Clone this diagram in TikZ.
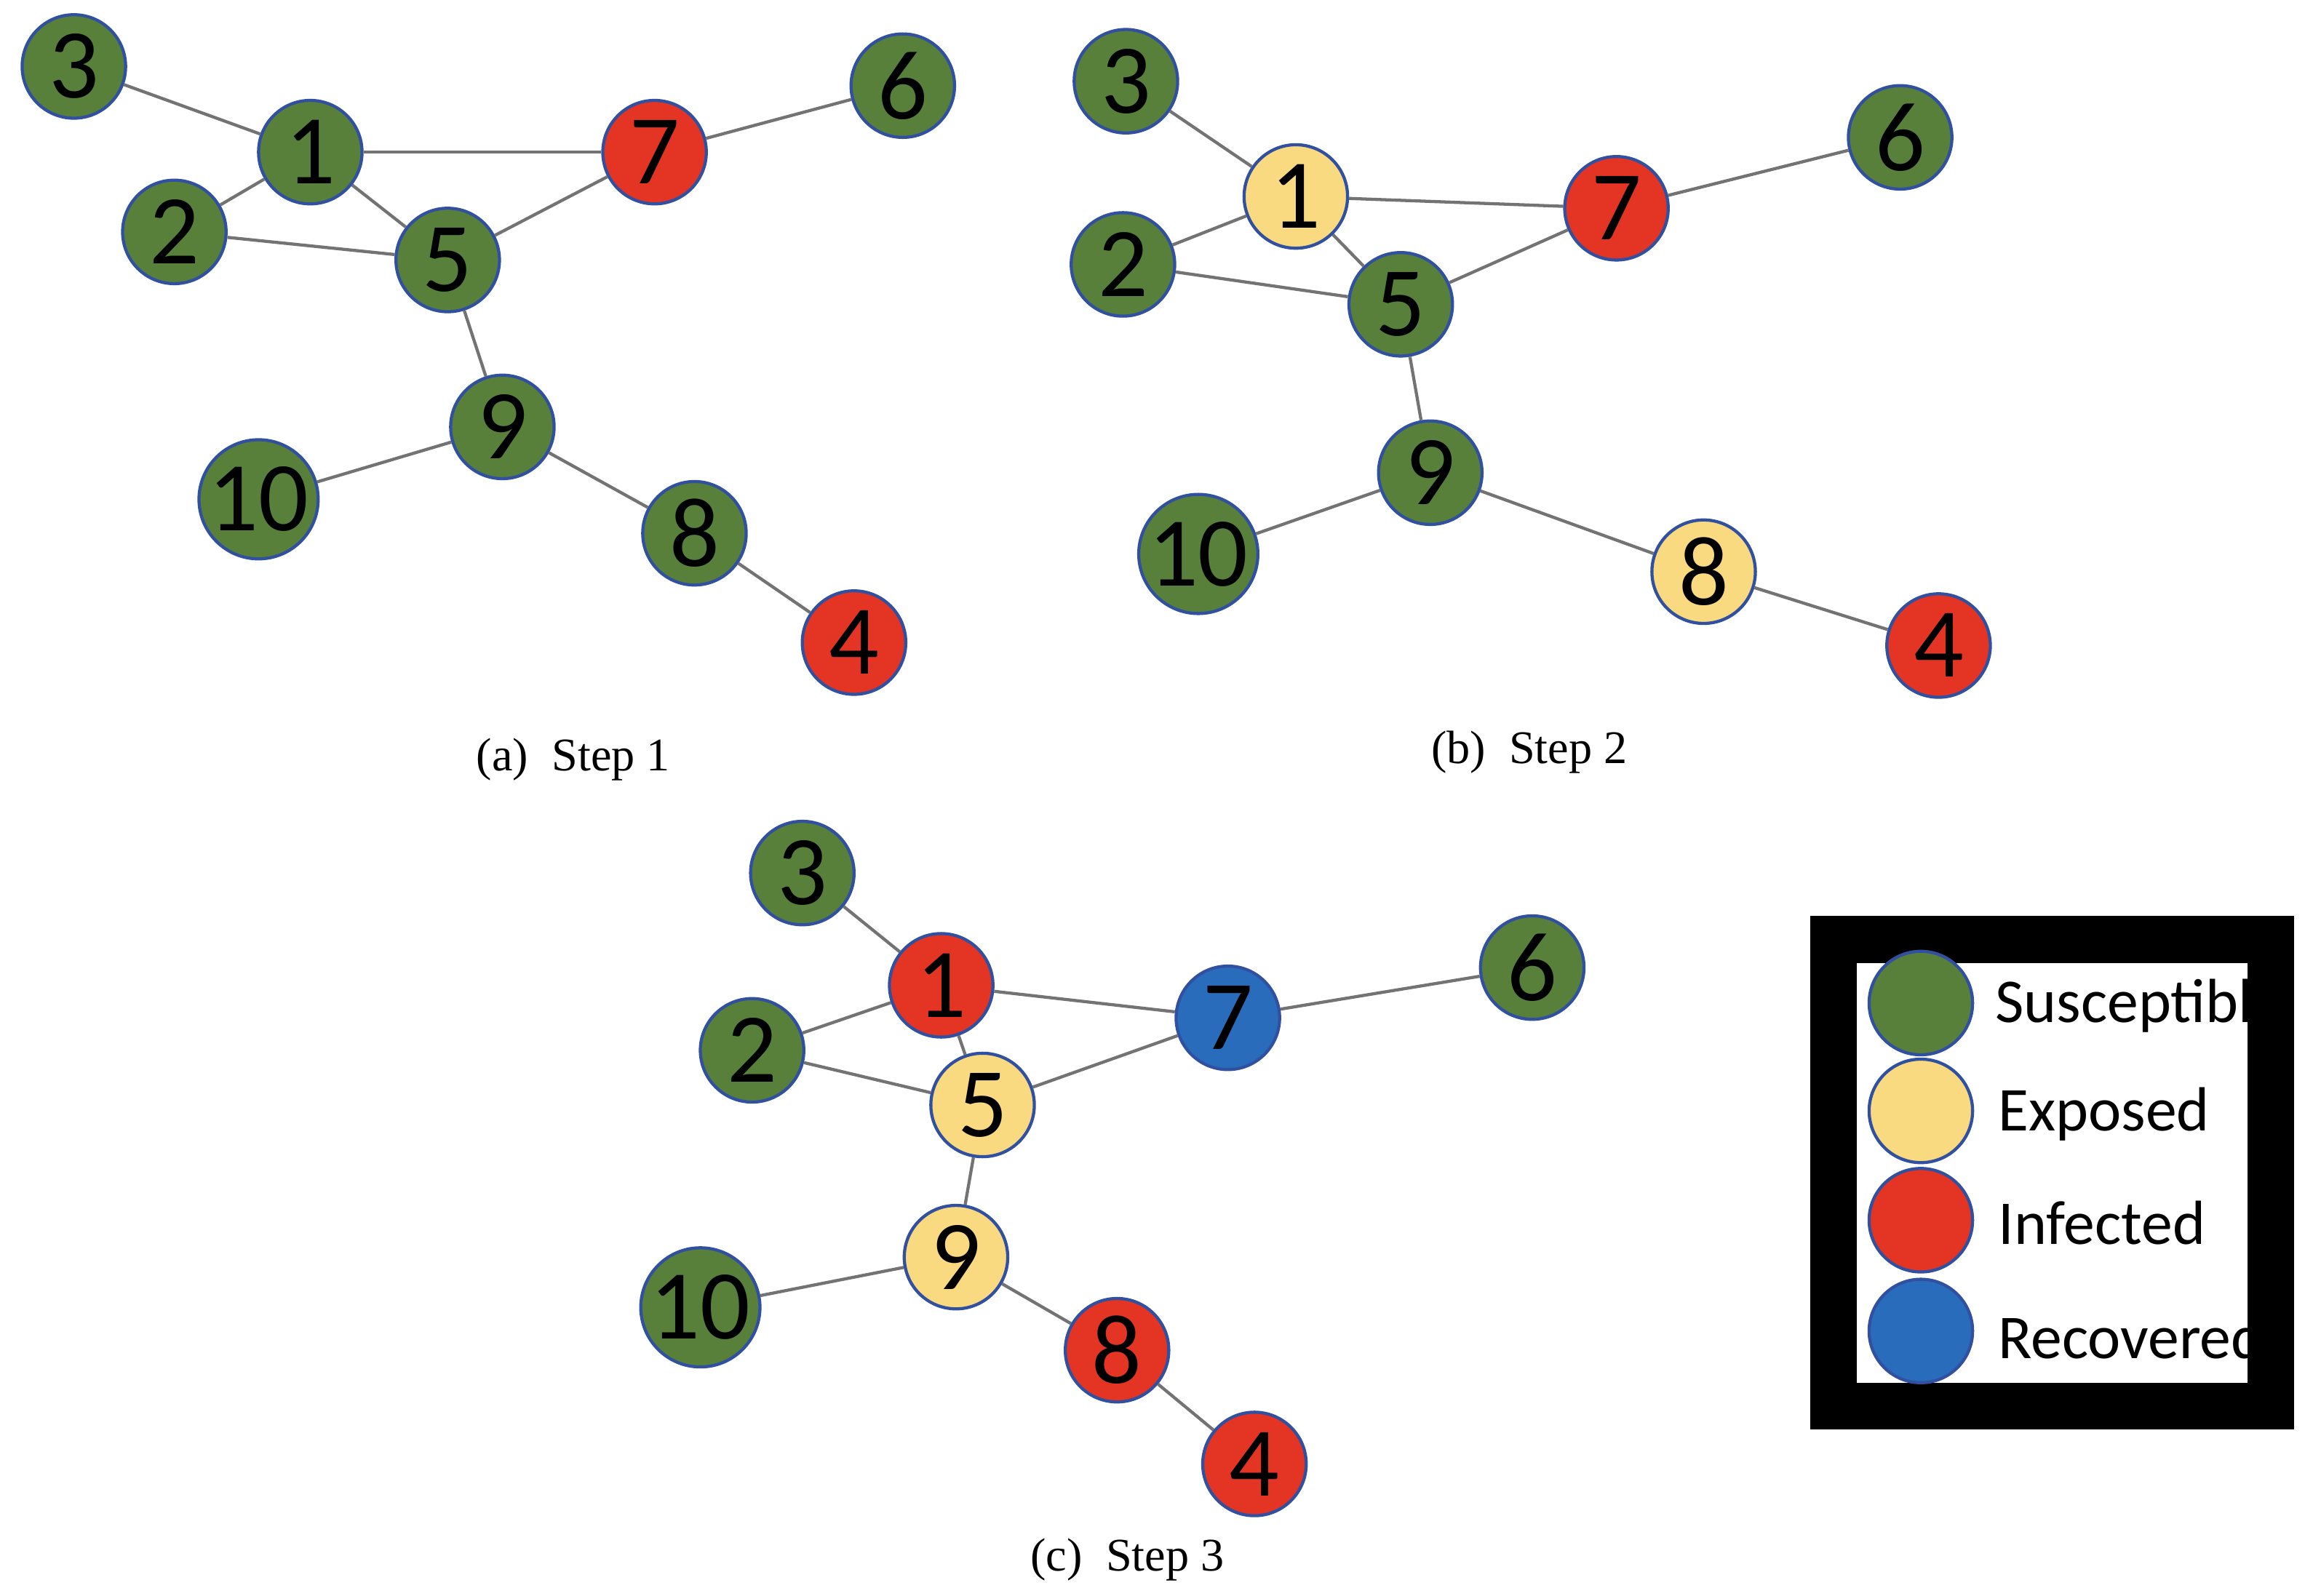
\documentclass[tikz,border=0pt]{standalone}
\usepackage{fontspec}
\setmainfont{Liberation Serif}
\newfontfamily\carfont{Carlito}
\begin{document}
\definecolor{sg}{RGB}{88,128,58}
\definecolor{ey}{RGB}{250,218,128}
\definecolor{ir}{RGB}{228,52,36}
\definecolor{rb}{RGB}{42,108,188}
\definecolor{bd}{RGB}{50,80,160}
\begin{tikzpicture}[x=0.01cm,y=-0.01cm,
 n/.style={circle,draw=bd,line width=0.6pt,minimum size=0.7cm,inner sep=0pt,font=\carfont\fontsize{19}{19}\selectfont},
 S/.style={n,fill=sg},E/.style={n,fill=ey},I/.style={n,fill=ir},R/.style={n,fill=rb},
 e/.style={draw=gray!90!black,line width=0.6pt},
 capt/.style={font=\fontsize{9}{10}\selectfont},
 lg/.style={font=\carfont\fontsize{12}{12}\selectfont,anchor=west}]
\useasboundingbox (0,0) rectangle (1560,1080);
% panel a
\node[S] (a3) at (50,45) {3};
\node[S] (a1) at (210,103) {1};
\node[I] (a7) at (443,103) {7};
\node[S] (a6) at (611,58) {6};
\node[S] (a2) at (118,157) {2};
\node[S] (a5) at (303,176) {5};
\node[S] (a9) at (340,289) {9};
\node[S] (a10) at (175,338) {10};
\node[S] (a8) at (470,361) {8};
\node[I] (a4) at (578,435) {4};
\node[capt] (ca) at (388,514) {(a)\ \ Step 1};
% panel b
\node[S] (b3) at (762,55) {3};
\node[E] (b1) at (877,133) {1};
\node[I] (b7) at (1094,141) {7};
\node[S] (b6) at (1286,93) {6};
\node[S] (b2) at (760,179) {2};
\node[S] (b5) at (948,206) {5};
\node[S] (b9) at (968,320) {9};
\node[S] (b10) at (811,375) {10};
\node[E] (b8) at (1153,387) {8};
\node[I] (b4) at (1312,437) {4};
\node[capt] (cb) at (1035,509) {(b)\ \ Step 2};
% panel c
\node[S] (c3) at (543,591) {3};
\node[I] (c1) at (637,667) {1};
\node[R] (c7) at (831,689) {7};
\node[S] (c6) at (1037,655) {6};
\node[S] (c2) at (509,711) {2};
\node[E] (c5) at (665,748) {5};
\node[E] (c9) at (647,851) {9};
\node[S] (c10) at (474,885) {10};
\node[I] (c8) at (756,914) {8};
\node[I] (c4) at (849,991) {4};
\node[capt] (cc) at (763,1056) {(c)\ \ Step 3};
\foreach \p in {a,b,c}{
 \draw[e] (\p3)--(\p1); \draw[e] (\p1)--(\p7); \draw[e] (\p7)--(\p6);
 \draw[e] (\p1)--(\p2); \draw[e] (\p1)--(\p5); \draw[e] (\p2)--(\p5);
 \draw[e] (\p5)--(\p7); \draw[e] (\p5)--(\p9); \draw[e] (\p9)--(\p10);
 \draw[e] (\p9)--(\p8); \draw[e] (\p8)--(\p4);}
% legend
\draw[line width=9pt] (1241,636) rectangle (1537,952);
\node[S] (l1) at (1300,679) {};
\node[E] (l2) at (1300,752) {};
\node[I] (l3) at (1300,826) {};
\node[R] (l4) at (1300,901) {};
\node[lg] at (1338,681) {Susceptible};
\node[lg] at (1340,754) {Exposed};
\node[lg] at (1340,828) {Infected};
\node[lg] at (1340,905) {Recovered};
\end{tikzpicture}
\end{document}
